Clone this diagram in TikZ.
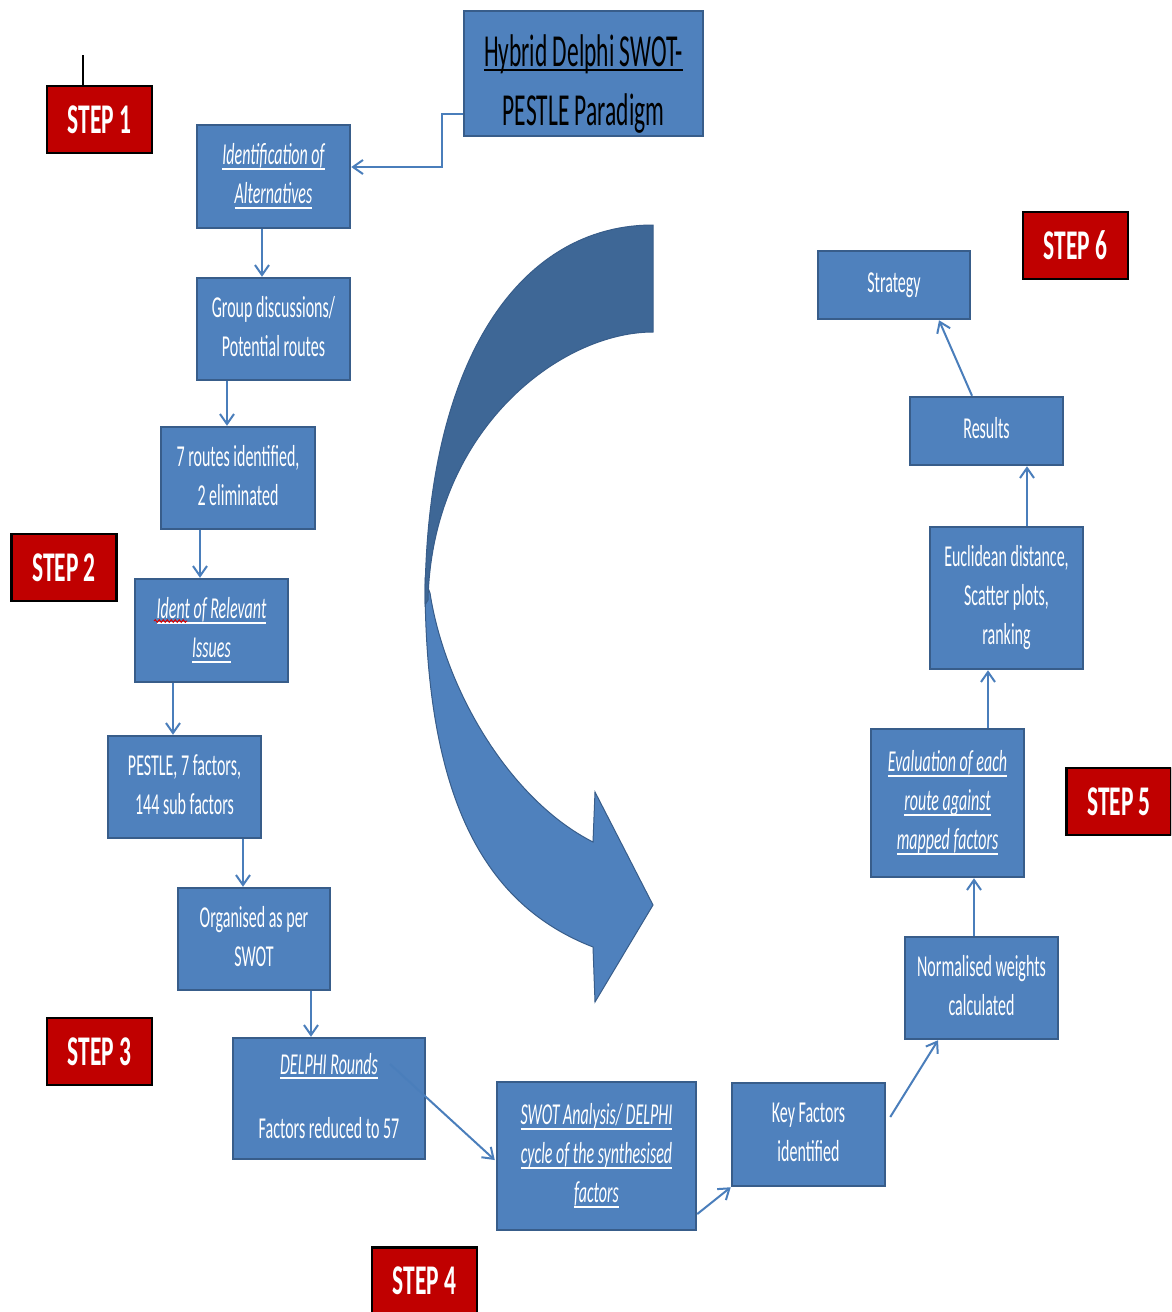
\documentclass[tikz,border=0pt]{standalone}
\usepackage{fontspec}
\setmainfont{Carlito}
\usetikzlibrary{arrows.meta,calc,decorations.pathmorphing}

\definecolor{boxfill}{HTML}{4F81BD}
\definecolor{boxedge}{HTML}{385D8A}
\definecolor{stepred}{HTML}{C00000}
\definecolor{linkblue}{HTML}{4A7EBB}
\definecolor{ribbondark}{HTML}{3E6796}
\definecolor{ribbonlight}{HTML}{4F81BD}

% thick underline that follows the current text colour
\newcommand\ulin[1]{\setbox0\hbox{#1}\rlap{\rule[-2.6pt]{\wd0}{1.1pt}}\box0}
% tall, narrow lettering used inside the process boxes
\newcommand\boxtext[1]{\scalebox{1}[1.9]{\fontsize{16}{20.5}\selectfont\begin{tabular}{@{}c@{}}#1\end{tabular}}}
\newcommand\steptext[1]{\scalebox{1}[1.8]{\fontsize{23.5}{28}\selectfont\bfseries #1}}

\tikzset{
  procbox/.style={draw=boxedge, fill=boxfill, line width=2.5pt, inner sep=0pt, text=white},
  stepbox/.style={draw=black, fill=stepred, line width=2.5pt, inner sep=0pt,
    minimum width=105, minimum height=67, text=white},
  conn/.style={draw=linkblue, line width=2pt,
    -{Straight Barb[length=10pt,width=14pt,line width=2pt]}},
  ribbon/.style={draw=boxedge, line width=1pt}
}

\begin{document}
\begin{tikzpicture}[x=1pt,y=-1pt]
\fill[white] (0,0) rectangle (1171,1312);
\useasboundingbox (0,0) rectangle (1171,1312);
\clip (0,0) rectangle (1171,1312);

% ---- central curved arrow (twisted ribbon) ----
\fill[ribbonlight, ribbon] (425,580) .. controls (425,800) and (485,905) .. (593,947)
  -- (595,1002) -- (653,905) -- (595,792) -- (593,842)
  .. controls (510,800) and (445,690) .. (430,593) -- cycle;
\fill[ribbondark, ribbon] (653,225) .. controls (520,225) and (425,360) .. (425,605)
  -- (428,600) .. controls (432,430) and (560,332) .. (653,332) -- cycle;

% ---- title ----
\node[procbox, minimum width=239, minimum height=125] (hyb) at (583.5,73.5) {};
\node[text=black] at ($(hyb)+(0,10.5)$) {\scalebox{1}[1.95]{\fontsize{23.5}{30.5}\selectfont
  \begin{tabular}{@{}c@{}}\ulin{Hybrid Delphi SWOT-}\\PESTLE Paradigm\end{tabular}}};

% ---- left column ----
\node[procbox, minimum width=153, minimum height=103] (ida) at (273.5,176.5)
  {\boxtext{\itshape\ulin{Identification of}\\\itshape\ulin{Alternatives}}};
\node[procbox, minimum width=153, minimum height=102] (grp) at (273.5,329)
  {\boxtext{Group discussions/\\Potential routes}};
\node[procbox, minimum width=154, minimum height=102] (rts) at (238,478)
  {\boxtext{7 routes identified,\\2 eliminated}};
\node[procbox, minimum width=153, minimum height=103] (rel) at (211.5,630.5)
  {\boxtext{\itshape\ulin{Ident of Relevant}\\\itshape\ulin{Issues}}};
\node[procbox, minimum width=153, minimum height=102] (pst) at (184.5,787)
  {\boxtext{PESTLE, 7 factors,\\144 sub factors}};
\node[procbox, minimum width=152, minimum height=102] (org) at (254,939)
  {\boxtext{Organised as per\\SWOT}};
\node[procbox, minimum width=192, minimum height=121] (del) at (329,1098.5)
  {\boxtext{\itshape\ulin{DELPHI Rounds}\\[13pt]Factors reduced to 57}};

% ---- bottom row ----
\node[procbox, minimum width=199, minimum height=148] (swt) at (596.5,1156)
  {\boxtext{\itshape\ulin{SWOT Analysis/ DELPHI}\\\itshape\ulin{cycle of the synthesised}\\\itshape\ulin{factors}}};
\node[procbox, minimum width=153, minimum height=103] (key) at (808.5,1134.5)
  {\boxtext{Key Factors\\identified}};

% ---- right column ----
\node[procbox, minimum width=153, minimum height=102] (nrm) at (981.5,988)
  {\boxtext{Normalised weights\\calculated}};
\node[procbox, minimum width=153, minimum height=148] (evl) at (947.5,803)
  {\boxtext{\itshape\ulin{Evaluation of each}\\\itshape\ulin{route against}\\\itshape\ulin{mapped factors}}};
\node[procbox, minimum width=153, minimum height=142] (euc) at (1006.5,598)
  {\boxtext{Euclidean distance,\\Scatter plots,\\ranking}};
\node[procbox, minimum width=153, minimum height=68] (res) at (986.5,431)
  {\boxtext{Results}};
\node[procbox, minimum width=152, minimum height=68] (str) at (894,285)
  {\boxtext{Strategy}};

% spell-check squiggle under "Ident"
\draw[red!85!black, line width=1pt, decorate,
  decoration={snake, amplitude=1.3pt, segment length=4pt}] (154,621) -- (187,621);

% ---- step labels ----
\node[stepbox] (s1) at (99.5,119.5) {\steptext{STEP 1}};
\node[stepbox] (s2) at (64,567.5) {\steptext{STEP 2}};
\node[stepbox] (s3) at (99.5,1051.5) {\steptext{STEP 3}};
\node[stepbox] (s4) at (424.5,1281) {\steptext{STEP 4}};
\node[stepbox] (s5) at (1119,801.5) {\steptext{STEP 5}};
\node[stepbox] (s6) at (1075.5,245.5) {\steptext{STEP 6}};
\draw[black, line width=2pt] (s1.north -| 83,0) -- ++(0,-30);

% ---- connectors ----
\draw[conn] ($(hyb.west)+(0,40.5)$) -- ++(-21,0) |- ($(ida.east)+(0,-9.5)$);
\draw[conn] ($(ida.south)+(-11.5,0)$) -- ($(grp.north)+(-11.5,0)$);
\draw[conn] ($(grp.south)+(-46.5,0)$) -- ($(rts.north)+(-11,0)$);
\draw[conn] ($(rts.south)+(-38,0)$) -- ($(rel.north)+(-11.5,0)$);
\draw[conn] ($(rel.south)+(-38.5,0)$) -- ($(pst.north)+(-11.5,0)$);
\draw[conn] ($(pst.south)+(58.5,0)$) -- ($(org.north)+(-11,0)$);
\draw[conn] ($(org.south)+(57,0)$) -- ($(del.north)+(-18,0)$);
\draw[conn] ($(del.center)+(61,-34.5)$) -- ($(swt.west)+(-1,4)$);
\draw[conn] ($(swt.east)+(0,58)$) -- (key.south west);
\draw[conn] ($(key.east)+(4,-17.5)$) -- ($(nrm.south)+(-43.5,0)$);
\draw[conn] ($(nrm.north)+(-7.5,0)$) -- ($(evl.south)+(26.5,0)$);
\draw[conn] ($(evl.north)+(40.5,0)$) -- ($(euc.south)+(-18.5,0)$);
\draw[conn] ($(euc.north)+(20.5,0)$) -- ($(res.south)+(40.5,0)$);
\draw[conn] ($(res.north)+(-14.5,0)$) -- ($(str.south)+(45,0)$);
\end{tikzpicture}
\end{document}
